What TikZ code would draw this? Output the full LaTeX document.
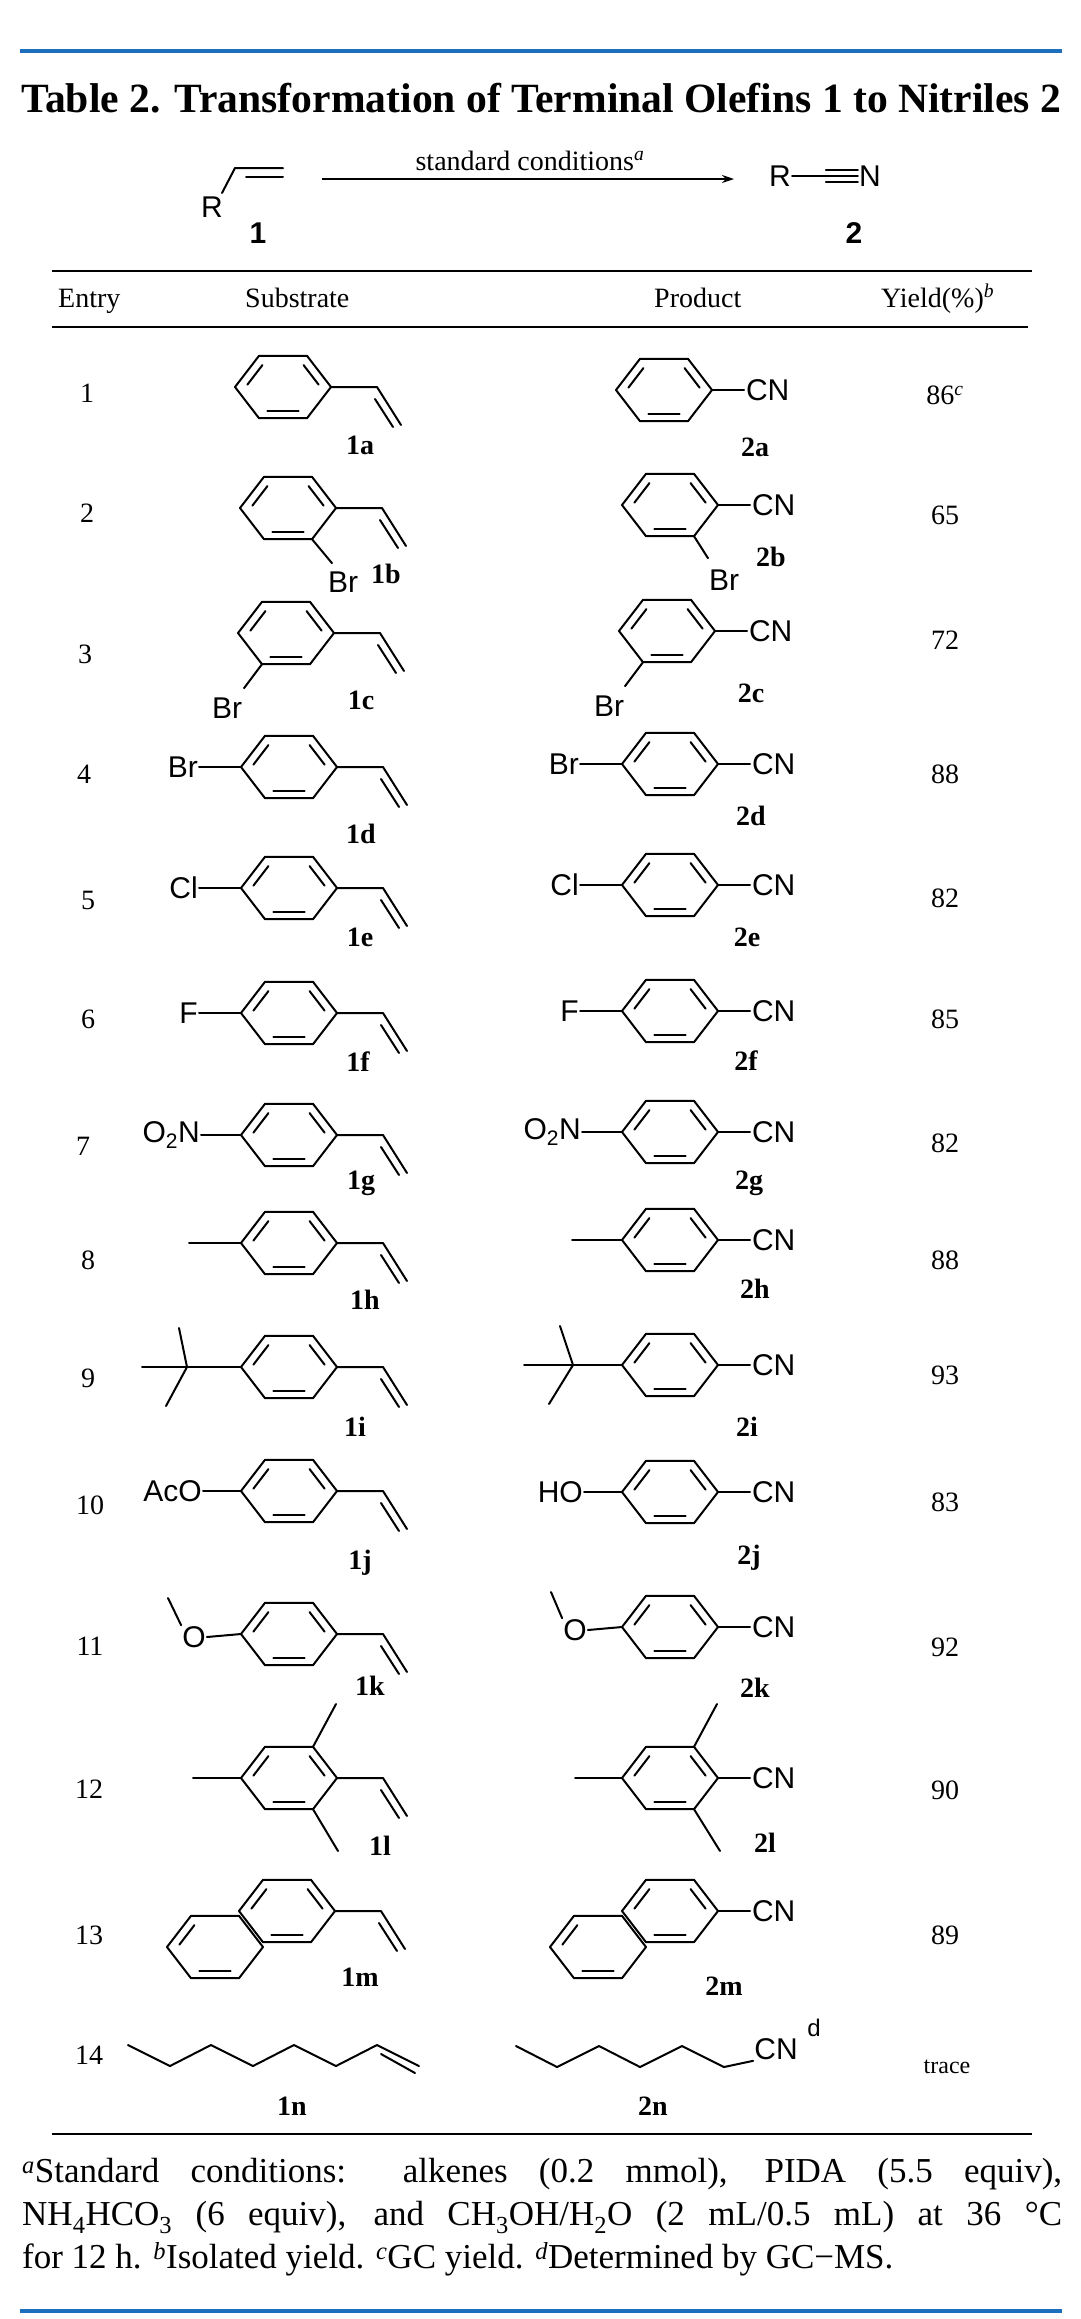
\documentclass[tikz,border=0pt]{standalone}
\usepackage{fontspec}
\usepackage{graphicx}
\setmainfont{Liberation Serif}
\newfontfamily\sansf{Liberation Sans}
\usetikzlibrary{calc,arrows.meta}
\definecolor{rulblue}{RGB}{30,110,190}
\newcommand\hexbase[3]{%
  \foreach \k in {0,...,5}{\coordinate (#1-\k) at ({#2+48*cos(60*\k)},{#3-36*sin(60*\k)});}
  \coordinate (#1-c) at (#2,#3);
  \draw[bond] (#1-0)--(#1-1)--(#1-2)--(#1-3)--(#1-4)--(#1-5)--cycle;
  \draw[bond,shorten <=3pt,shorten >=3pt] ($(#1-c)!0.78!(#1-3)$)--($(#1-c)!0.78!(#1-2)$);
  \draw[bond,shorten <=3pt,shorten >=3pt] ($(#1-c)!0.78!(#1-4)$)--($(#1-c)!0.78!(#1-5)$);
}
\newcommand\hexring[3]{%
  \hexbase{#1}{#2}{#3}%
  \draw[bond,shorten <=3pt,shorten >=3pt] ($(#1-c)!0.78!(#1-1)$)--($(#1-c)!0.78!(#1-0)$);
}
\newcommand\vinyl[2]{%
  \coordinate (#1a) at ($(#2)+(46,0)$);
  \coordinate (#1b) at ($(#1a)+(24,38)$);
  \draw[bond] (#2)--(#1a)--(#1b);
  \draw[bond] ($(#1a)+(-2,12)$)--($(#1b)+(-8,2)$);
}
\newcommand\cyano[2]{%
  \draw[bond] (#2) -- ++(32,0) node[atom,anchor=west] (#1) {CN};
}
\newcommand\para[3]{% name, ring, text
  \node[atom,anchor=east] (#1) at ($(#2-3)+(-42,0)$) {#3};
  \draw[bond] (#1.east) -- (#2-3);
}
\begin{document}
\begin{tikzpicture}[x=1pt,y=-1pt,
  bond/.style={line width=2pt,line cap=round,line join=round},
  atom/.style={font=\sansf\fontsize{30}{32}\selectfont,inner sep=1pt},
  lab/.style={font=\fontsize{28}{30}\selectfont\bfseries,inner sep=1pt},
  txt/.style={font=\fontsize{28}{30}\selectfont,inner sep=1pt},
  rul/.style={line width=2.6pt},
  blue/.style={draw=rulblue,line width=3.5pt}]
\useasboundingbox (0,0) rectangle (1080,2319);
\fill[white] (0,0) rectangle (1080,2319);
\coordinate (bl1) at (20,51); \coordinate (bl2) at (1062,51);
\draw[blue] (bl1)--(bl2);
\node[anchor=west,inner sep=0pt] (title) at (21,98) {\resizebox{1040pt}{!}{\bfseries Table 2. Transformation of Terminal Olefins 1 to Nitriles 2}};
% scheme
\node[atom] (R1) at (212,207) {R};
\coordinate (a1) at (222,193); \coordinate (a2) at (235,168); \coordinate (a3) at (283,168);
\draw[bond] (a1)--(a2)--(a3);
\draw[bond] (246,177)--(283,177);
\node[font=\sansf\bfseries\fontsize{30}{32}\selectfont] (n1) at (258,233) {1};
\coordinate (ar1) at (322,179); \coordinate (ar2) at (734,179);
\draw[line width=1.6pt,-{Stealth[length=12pt,width=8pt]}] (ar1)--(ar2);
\node[txt,anchor=base] (cond) at (530,170) {standard conditions\textsuperscript{\textit{a}}};
\node[atom] (R2) at (780,176) {R};
\node[atom] (N2) at (870,176) {N};
\draw[bond] (R2.east)--(N2.west);
\draw[bond] ($(N2.west)+(-32,-6)$)--($(N2.west)+(0,-6)$);
\draw[bond] ($(N2.west)+(-32,6)$)--($(N2.west)+(0,6)$);
\node[font=\sansf\bfseries\fontsize{30}{32}\selectfont] (n2) at (854,233) {2};
% table rules
\coordinate (r1a) at (52,271); \coordinate (r1b) at (1032,271);
\coordinate (r2a) at (52,327); \coordinate (r2b) at (1028,327);
\coordinate (r3a) at (52,2134); \coordinate (r3b) at (1032,2134);
\draw[rul] (r1a)--(r1b); \draw[rul] (r2a)--(r2b); \draw[rul] (r3a)--(r3b);
\node[txt,anchor=base west] (h1) at (57,307) {Entry};
\node[txt,anchor=base west] (h2) at (244,307) {Substrate};
\node[txt,anchor=base west] (h3) at (653,307) {Product};
\node[txt,anchor=base west] (h4) at (880,307) {Yield(\%)\textsuperscript{\textit{b}}};
% entries
\foreach \e/\y/\yy/\ex/\yld in {1/393/395/87/86\textsuperscript{\textit{c}},2/513/515/87/65,3/654/640/85/72,4/774/774/84/88,5/900/898/88/82,6/1019/1019/88/85,7/1146/1143/83/82,8/1260/1260/88/88,9/1378/1375/88/93,10/1505/1502/90/83,11/1646/1647/90/92,12/1789/1790/89/90,13/1935/1935/89/89}{
  \node[txt] (e\e) at (\ex,\y) {\e};
  \node[txt] (y\e) at (945,\yy) {\yld};
}
\node[txt] (e14) at (89,2055) {14};
\node[font=\fontsize{24}{26}\selectfont] (y14) at (947,2067) {trace};
% row 1
\hexring{S1}{283}{387}\vinyl{v1}{S1-0}
\hexring{P1}{664}{390}\cyano{cn1}{P1-0}
\node[lab] (l1a) at (360,445) {1a}; \node[lab] (l2a) at (755,447) {2a};
% row 2
\hexring{S2}{288}{508}\vinyl{v2}{S2-0}
\coordinate (bb1) at ($(S2-5)+(20,24)$); \draw[bond] (S2-5)--(bb1);
\node[atom] (br2s) at (343,582) {Br};
\hexring{P2}{670}{505}\cyano{cn2}{P2-0}
\coordinate (bb2) at ($(P2-5)+(14,22)$); \draw[bond] (P2-5)--(bb2);
\node[atom] (br2p) at (724,580) {Br};
\node[lab] (l1b) at (386,574) {1b}; \node[lab] (l2b) at (771,557) {2b};
% row 3
\hexring{S3}{286}{633}\vinyl{v3}{S3-0}
\coordinate (bc1) at ($(S3-4)+(-18,24)$); \draw[bond] (S3-4)--(bc1);
\node[atom] (br3s) at (227,708) {Br};
\hexring{P3}{667}{631}\cyano{cn3}{P3-0}
\coordinate (bc2) at ($(P3-4)+(-18,24)$); \draw[bond] (P3-4)--(bc2);
\node[atom] (br3p) at (609,706) {Br};
\node[lab] (l1c) at (361,700) {1c}; \node[lab] (l2c) at (751,693) {2c};
% row 4
\hexring{S4}{289}{767}\vinyl{v4}{S4-0}\para{x4s}{S4}{Br}
\hexring{P4}{670}{764}\cyano{cn4}{P4-0}\para{x4p}{P4}{Br}
\node[lab] (l1d) at (361,834) {1d}; \node[lab] (l2d) at (751,816) {2d};
% row 5
\hexring{S5}{289}{888}\vinyl{v5}{S5-0}\para{x5s}{S5}{Cl}
\hexring{P5}{670}{885}\cyano{cn5}{P5-0}\para{x5p}{P5}{Cl}
\node[lab] (l1e) at (360,937) {1e}; \node[lab] (l2e) at (747,937) {2e};
% row 6
\hexring{S6}{289}{1013}\vinyl{v6}{S6-0}\para{x6s}{S6}{F}
\hexring{P6}{670}{1011}\cyano{cn6}{P6-0}\para{x6p}{P6}{F}
\node[lab] (l1f) at (358,1062) {1f}; \node[lab] (l2f) at (746,1061) {2f};
% row 7
\hexring{S7}{289}{1135}\vinyl{v7}{S7-0}
\node[atom,anchor=east] (x7s) at ($(S7-3)+(-40,0)$) {O\textsubscript{2}N}; \draw[bond] (x7s.east)--(S7-3);
\hexring{P7}{670}{1132}\cyano{cn7}{P7-0}
\node[atom,anchor=east] (x7p) at ($(P7-3)+(-40,0)$) {O\textsubscript{2}N}; \draw[bond] (x7p.east)--(P7-3);
\node[lab] (l1g) at (361,1183) {1g}; \node[lab] (l2g) at (749,1183) {2g};
% row 8
\hexring{S8}{289}{1243}\vinyl{v8}{S8-0}
\coordinate (m8s) at (189,1243); \draw[bond] (S8-3)--(m8s);
\hexring{P8}{670}{1240}\cyano{cn8}{P8-0}
\coordinate (m8p) at (572,1240); \draw[bond] (P8-3)--(m8p);
\node[lab] (l1h) at (365,1300) {1h}; \node[lab] (l2h) at (755,1289) {2h};
% row 9
\hexring{S9}{289}{1367}\vinyl{v9}{S9-0}
\coordinate (q9s) at (187,1367); \coordinate (q9s1) at (142,1367); \coordinate (q9s2) at (179,1328); \coordinate (q9s3) at (166,1406);
\draw[bond] (S9-3)--(q9s)--(q9s1); \draw[bond] (q9s2)--(q9s)--(q9s3);
\hexring{P9}{670}{1365}\cyano{cn9}{P9-0}
\coordinate (q9p) at (573,1365); \coordinate (q9p1) at (524,1365); \coordinate (q9p2) at (560,1326); \coordinate (q9p3) at (549,1404);
\draw[bond] (P9-3)--(q9p)--(q9p1); \draw[bond] (q9p2)--(q9p)--(q9p3);
\node[lab] (l1i) at (355,1427) {1i}; \node[lab] (l2i) at (747,1427) {2i};
% row 10
\hexring{S10}{289}{1491}\vinyl{v10}{S10-0}
\node[atom,anchor=east] (x10s) at ($(S10-3)+(-38,0)$) {AcO}; \draw[bond] (x10s.east)--(S10-3);
\hexring{P10}{670}{1492}\cyano{cn10}{P10-0}
\node[atom,anchor=east] (x10p) at ($(P10-3)+(-38,0)$) {HO}; \draw[bond] (x10p.east)--(P10-3);
\node[lab] (l1j) at (360,1563) {1j}; \node[lab] (l2j) at (749,1558) {2j};
% row 11
\hexring{S11}{289}{1634}\vinyl{v11}{S11-0}
\node[atom] (o11s) at (194,1637) {O}; \draw[bond] (o11s.east)--(S11-3);
\coordinate (me11s) at (168,1598); \draw[bond] (o11s.north west)--(me11s);
\hexring{P11}{670}{1627}\cyano{cn11}{P11-0}
\node[atom] (o11p) at (575,1630) {O}; \draw[bond] (o11p.east)--(P11-3);
\coordinate (me11p) at (551,1592); \draw[bond] (o11p.north west)--(me11p);
\node[lab] (l1k) at (370,1686) {1k}; \node[lab] (l2k) at (755,1688) {2k};
% row 12
\hexring{S12}{289}{1778}\vinyl{v12}{S12-0}
\coordinate (m12a) at (336,1704); \coordinate (m12b) at (193,1778); \coordinate (m12c) at (338,1851);
\draw[bond] (S12-1)--(m12a); \draw[bond] (S12-3)--(m12b); \draw[bond] (S12-5)--(m12c);
\hexring{P12}{670}{1778}\cyano{cn12}{P12-0}
\coordinate (m12d) at (717,1704); \coordinate (m12e) at (575,1778); \coordinate (m12f) at (720,1851);
\draw[bond] (P12-1)--(m12d); \draw[bond] (P12-3)--(m12e); \draw[bond] (P12-5)--(m12f);
\node[lab] (l1l) at (380,1846) {1l}; \node[lab] (l2l) at (765,1843) {2l};
% row 13
\hexring{S13}{287}{1911}\hexbase{T13}{215}{1947}\vinyl{v13}{S13-0}
\hexring{P13}{670}{1911}\hexbase{Q13}{598}{1947}\cyano{cn13}{P13-0}
\node[lab] (l1m) at (360,1977) {1m}; \node[lab] (l2m) at (724,1986) {2m};
% row 14
\foreach \i/\x/\y in {0/128/2045,1/170/2066,2/211/2045,3/253/2066,4/294/2045,5/336/2066,6/377/2045,7/419/2066}{\coordinate (c\i) at (\x,\y);}
\draw[bond] (c0)--(c1)--(c2)--(c3)--(c4)--(c5)--(c6)--(c7);
\draw[bond] ($(c6)+(4,9)$)--($(c7)+(-4,7)$);
\foreach \i/\x/\y in {0/516/2046,1/557/2067,2/599/2046,3/640/2067,4/682/2046,5/724/2067}{\coordinate (d\i) at (\x,\y);}
\node[atom] (cn14) at (776,2049) {CN};
\node[font=\sansf\fontsize{24}{26}\selectfont,inner sep=0pt] (sd) at (814,2028) {d};
\draw[bond] (d0)--(d1)--(d2)--(d3)--(d4)--(d5)--(cn14.south west);
\node[lab] (l1n) at (292,2106) {1n}; \node[lab] (l2n) at (653,2106) {2n};
% footnote
\node[anchor=north west,inner sep=0pt,text width=1040pt,align=justify,font=\fontsize{35}{43}\selectfont] (foot) at (22,2158)
{\textsuperscript{\textit{a}}Standard conditions: alkenes (0.2 mmol), PIDA (5.5 equiv),\linebreak NH\textsubscript{4}HCO\textsubscript{3} (6 equiv), and CH\textsubscript{3}OH/H\textsubscript{2}O (2 mL/0.5 mL) at 36 °C\linebreak for 12 h. \textsuperscript{\textit{b}}Isolated yield. \textsuperscript{\textit{c}}GC yield. \textsuperscript{\textit{d}}Determined by GC−MS.};
\coordinate (bl3) at (20,2311); \coordinate (bl4) at (1062,2311);
\draw[blue] (bl3)--(bl4);
\end{tikzpicture}
\end{document}
